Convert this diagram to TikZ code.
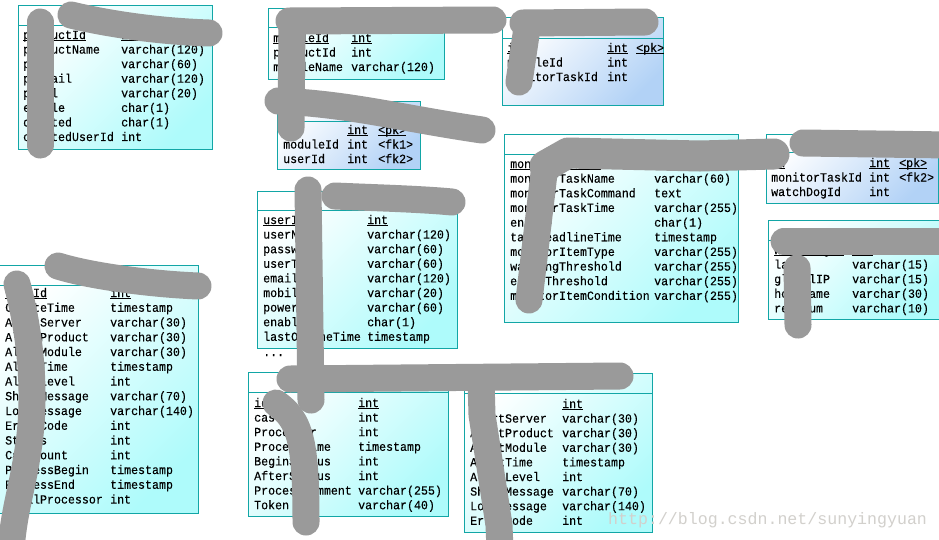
\documentclass[tikz,border=0pt]{standalone}
\usepackage{fontspec}
\newfontfamily\cellfont{Liberation Mono}[FakeStretch=0.93, UprightFeatures={FakeBold=0.15}]
\newfontfamily\wmfont{Liberation Mono}
\definecolor{tborder}{HTML}{12A6A6}
\definecolor{cyanfill}{HTML}{AEFBFB}
\definecolor{bluefill}{HTML}{B2D2F6}
\definecolor{scrib}{HTML}{9A9A9A}
\definecolor{wmark}{HTML}{D2D0CC}
\newcommand\ulx[1]{\underline{\smash{#1}}}
\newcommand\tabrows[6]{%
  \foreach \a/\b [count=\i from 0] in {#6} {
    \node[cell] (#1n\i) at (#2,{#4+#5*\i}) {\a};
    \node[cell] (#1t\i) at (#3,{#4+#5*\i}) {\b};
  }}
\newcommand\tabrowsk[7]{%
  \foreach \a/\b/\c [count=\i from 0] in {#7} {
    \node[cell] (#1n\i) at (#2,{#5+#6*\i}) {\a};
    \node[cell] (#1t\i) at (#3,{#5+#6*\i}) {\b};
    \node[cell] (#1k\i) at (#4,{#5+#6*\i}) {\c};
  }}
\newcommand\hdr[2]{\draw[tborder, line width=0.9pt] ([yshift=-#2pt]#1.north west) -- ([yshift=-#2pt]#1.north east);}
\begin{document}
\begin{tikzpicture}[x=1pt,y=-1pt,
  tbl/.style={draw=tborder, line width=0.9pt, top color=white, bottom color=#1, shading angle=45,
    rectangle, inner sep=0, anchor=north west},
  cell/.style={anchor=base west, inner sep=0, font=\cellfont\fontsize{12.5}{14}\selectfont},
  scribble/.style={draw=scrib, line width=27pt, line cap=round, line join=round},
  wm/.style={anchor=base west, inner sep=0, text=wmark, font=\wmfont\fontsize{16.6}{18}\selectfont}]
\useasboundingbox (0,0) rectangle (939,539);
\clip (0,0) rectangle (939,539);
\fill[white] (0,0) rectangle (939,539);

% tables
\node[tbl=cyanfill, minimum width=194, minimum height=144] (T1) at (18,5) {};
\hdr{T1}{20}
\tabrows{T1}{23}{121}{39}{14.57}{\ulx{productId}/\ulx{int}, productName/varchar(120), pm/varchar(60), pmEmail/varchar(120), pmTel/varchar(20), enable/char(1), deleted/char(1), createdUserId/int}

\node[tbl=cyanfill, minimum width=176, minimum height=71] (T2) at (268,8) {};
\hdr{T2}{19}
\tabrows{T2}{273}{351}{42}{14.5}{\ulx{moduleId}/\ulx{int}, productId/int, moduleName/varchar(120)}

\node[tbl=bluefill, minimum width=143, minimum height=68] (T3) at (277,101) {};
\hdr{T3}{20}
\tabrowsk{T3}{283}{347}{378}{134}{14.5}{\ulx{id}/\ulx{int}/\ulx{<pk>}, moduleId/int/<fk1>, userId/int/<fk2>}

\node[tbl=bluefill, minimum width=161, minimum height=88] (T4) at (502,17) {};
\hdr{T4}{21}
\tabrowsk{T4}{507}{607}{636}{52}{14.5}{\ulx{id}/\ulx{int}/\ulx{<pk>}, moduleId/int/{}, monitorTaskId/int/{}}

\node[tbl=cyanfill, minimum width=234, minimum height=188] (T5) at (504,134) {};
\hdr{T5}{20}
\tabrows{T5}{510}{654}{168}{14.65}{\ulx{monitorTaskId}/\ulx{int}, monitorTaskName/varchar(60), monitorTaskCommand/text, monitorTaskTime/varchar(255), enable/char(1), taskDeadlineTime/timestamp, monitorItemType/varchar(255), warningThreshold/varchar(255), errorThreshold/varchar(255), monitorItemCondition/varchar(255)}

\node[tbl=bluefill, minimum width=172, minimum height=69] (T6) at (766,134) {};
\hdr{T6}{18}
\tabrowsk{T6}{771}{869}{899}{167}{14.5}{\ulx{id}/\ulx{int}/\ulx{<pk>}, monitorTaskId/int/<fk2>, watchDogId/int/{}}

\node[tbl=cyanfill, minimum width=171, minimum height=99] (T7) at (768,220) {};
\hdr{T7}{20}
\tabrows{T7}{774}{852}{254}{14.6}{\ulx{watchDogId}/\ulx{int}, lanIP/varchar(15), globalIP/varchar(15), hostname/varchar(30), redoNum/varchar(10)}

\node[tbl=cyanfill, minimum width=200, minimum height=157] (T8) at (257,191) {};
\hdr{T8}{19}
\tabrows{T8}{263}{367}{224}{14.6}{\ulx{userId}/\ulx{int}, userName/varchar(120), password/varchar(60), userType/varchar(60), email/varchar(120), mobile/varchar(20), power/varchar(60), enable/char(1), lastOnlineTime/timestamp}
\node[cell] (T8more) at (263,356) {...};

\node[tbl=cyanfill, minimum width=203, minimum height=248] (T9) at (-5,265) {};
\hdr{T9}{20}
\tabrows{T9}{5}{110}{297}{14.75}{\ulx{CaseId}/\ulx{int}, CreateTime/timestamp, AlertServer/varchar(30), AlertProduct/varchar(30), AlertModule/varchar(30), AlertTime/timestamp, AlertLevel/int, ShortMessage/varchar(70), LongMessage/varchar(140), ErrorCode/int, Status/int, CallCount/int, ProcessBegin/timestamp, ProcessEnd/timestamp, FinalProcessor/int}

\node[tbl=cyanfill, minimum width=200, minimum height=144] (T10) at (248,372) {};
\hdr{T10}{20}
\tabrows{T10}{254}{358}{407}{14.6}{\ulx{id}/\ulx{int}, caseId/int, Processor/int, ProcessTime/timestamp, BeginStatus/int, AfterStatus/int, ProcessComment/varchar(255), Token/varchar(40)}

\node[tbl=cyanfill, minimum width=188, minimum height=159] (T11) at (464,373) {};
\hdr{T11}{20}
\tabrows{T11}{470}{562}{408}{14.6}{\ulx{id}/\ulx{int}, AlertServer/varchar(30), AlertProduct/varchar(30), AlertModule/varchar(30), AlertTime/timestamp, AlertLevel/int, ShortMessage/varchar(70), LongMessage/varchar(140), ErrorCode/int}

% watermark
\node[wm] (wmk) at (608,524) {http://blog.csdn.net/sunyingyuan};

% scribbles
\draw[scribble] (40,22) -- (40,145);
\draw[scribble] (71,15) .. controls (100,22) and (150,31) .. (209,33);
\draw[scribble] (289,21) -- (493,20);
\draw[scribble] (292,25) -- (291,128);
\draw[scribble] (278,101) .. controls (350,104) and (400,118) .. (482,130);
\draw[scribble] (523,23) -- (645,22);
\draw[scribble] (527,28) -- (519,82);
\draw[scribble] (529,300) -- (545,165);
\draw[scribble, line width=31pt] (545,166) -- (568,153) -- (700,156) -- (774,154);
\draw[scribble] (803,143) -- (950,145);
\draw[scribble] (784,241) -- (950,241);
\draw[scribble] (797,268) -- (798,325);
\draw[scribble] (335,196) .. controls (380,198) and (420,199) .. (452,202);
\draw[scribble] (308,190) -- (311,400);
\draw[scribble] (276,403) .. controls (300,420) and (306,440) .. (306,522);
\draw[scribble] (290,379) -- (620,376);
\draw[scribble] (481,380) -- (482,415) -- (499,525) -- (500,550);
\draw[scribble] (58,266) .. controls (90,276) and (150,284) .. (198,286);
\draw[scribble] (17,284) .. controls (32,340) and (36,400) .. (28,450) .. controls (22,490) and (14,510) .. (11,550);
\end{tikzpicture}
\end{document}
